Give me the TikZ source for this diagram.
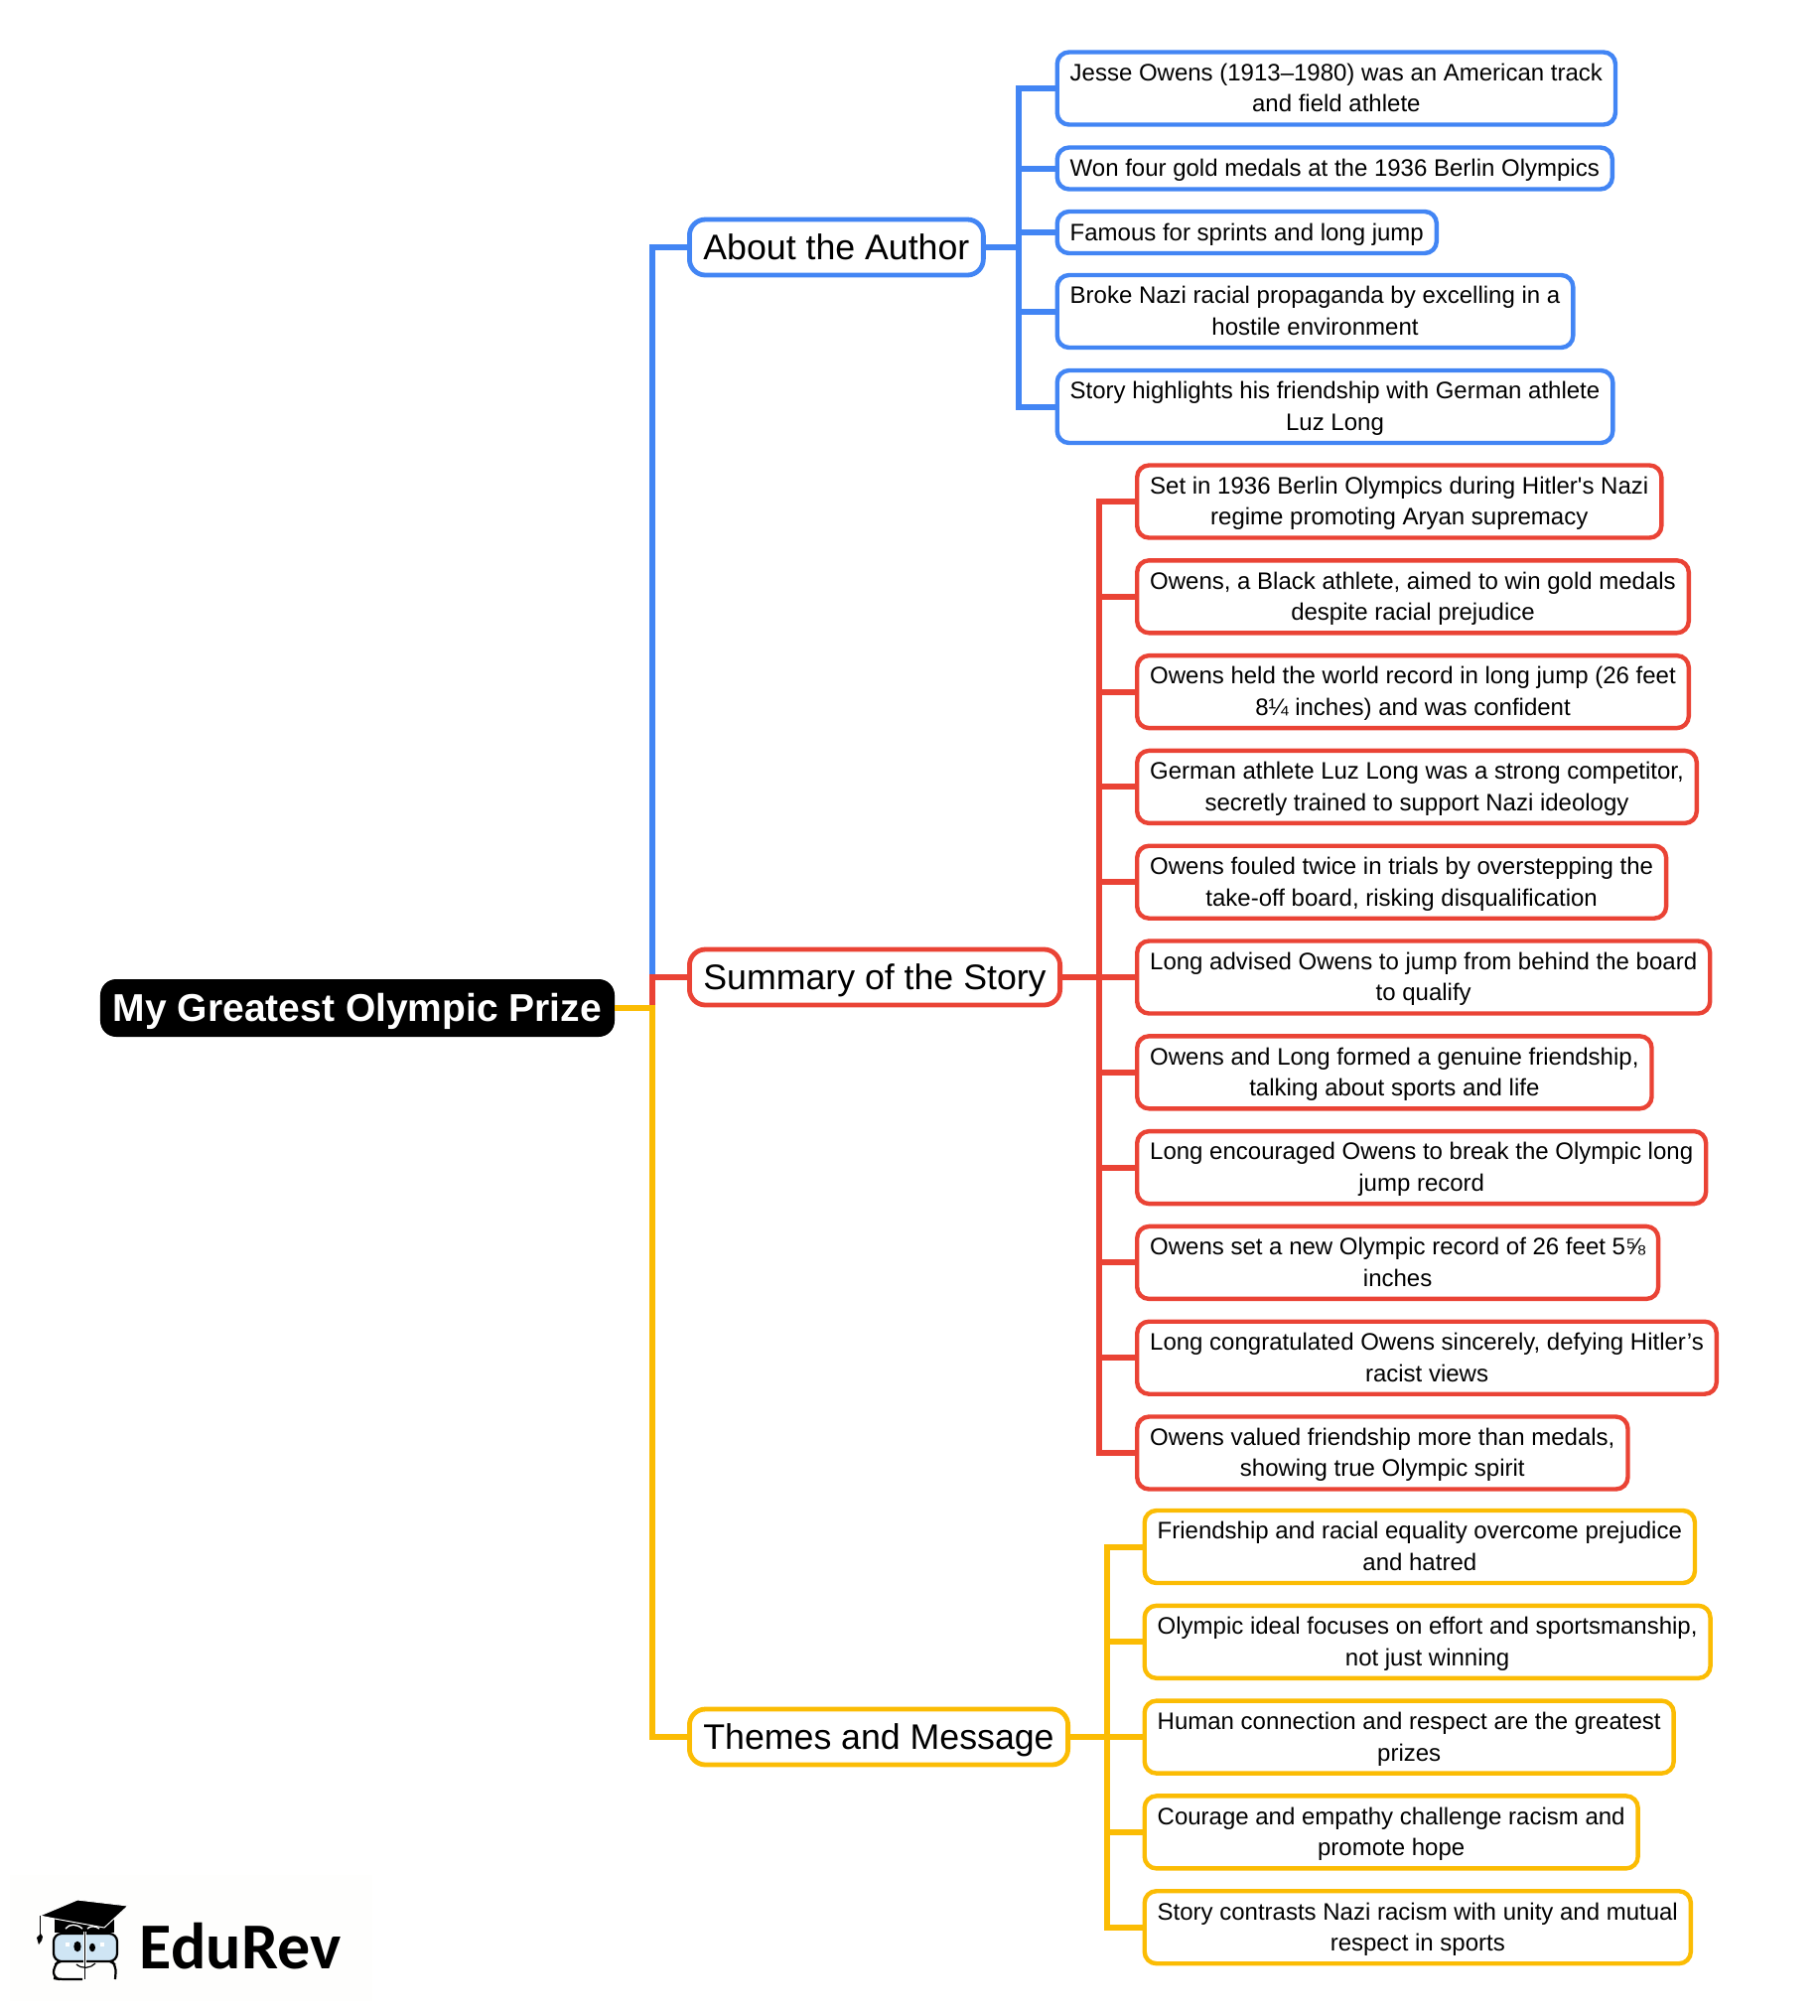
\documentclass[tikz,border=0pt]{standalone}
\usepackage{fontspec}
\setmainfont{Liberation Sans}
\newfontfamily\logofont{Carlito}
\usetikzlibrary{positioning}
\definecolor{authorblue}{HTML}{4285F4}
\definecolor{storyred}{HTML}{EA4335}
\definecolor{themeyellow}{HTML}{FBBC04}
\definecolor{logoblue}{HTML}{CFE5F4}
\definecolor{logopaper}{HTML}{FEFEFD}
\tikzset{
	rootbox/.style={fill=black, text=white, rounded corners=8pt, inner xsep=6.5pt, minimum height=29pt, text height=14pt, text depth=0.6pt, font=\fontsize{19.5}{23}\selectfont\bfseries},
	headbox/.style={draw=#1, line width=2.4pt, fill=white, rounded corners=8pt, anchor=west, inner xsep=7pt, minimum height=28pt, text height=13pt, text depth=0.8pt, font=\fontsize{17.85}{21}\selectfont},
	leafbox/.style={draw=#1, line width=2.2pt, fill=white, rounded corners=6pt, anchor=west, align=center, inner xsep=6.5pt, inner ysep=2pt, minimum height=21pt, text depth=0.6pt, font=\fontsize{12}{15.8}\selectfont},
	twoline/.style={minimum height=36.5pt},
	branch/.style={draw=#1, line width=3pt},
}
\begin{document}
\begin{tikzpicture}[x=0.5pt, y=-0.5pt]
	\useasboundingbox (0,0) rectangle (1832,2030);

	\coordinate (rt) at (656.5,0);
	\coordinate (at) at (1026,0);
	\coordinate (st) at (1107,0);
	\coordinate (tt) at (1115,0);

	\node (root) [rootbox] at (360,1015) {My Greatest Olympic Prize};

	\node (a) [headbox=authorblue] at (692,249) {About the Author};
	\node (s) [headbox=storyred] at (692,984) {Summary of the Story};
	\node (t) [headbox=themeyellow] at (692,1749) {Themes and Message};

	\node (a1) [leafbox=authorblue, twoline] at (1062.5,89) {Jesse Owens (1913–1980) was an American track\\and field athlete};
	\node (a2) [leafbox=authorblue] at (1062.5,169.5) {Won four gold medals at the 1936 Berlin Olympics};
	\node (a3) [leafbox=authorblue] at (1062.5,234) {Famous for sprints and long jump};
	\node (a4) [leafbox=authorblue, twoline] at (1062.5,313.5) {Broke Nazi racial propaganda by excelling in a\\hostile environment};
	\node (a5) [leafbox=authorblue, twoline] at (1062.5,409.5) {Story highlights his friendship with German athlete\\Luz Long};

	\node (s1) [leafbox=storyred, twoline] at (1143,505) {Set in 1936 Berlin Olympics during Hitler\textquotesingle s Nazi\\regime promoting Aryan supremacy};
	\node (s2) [leafbox=storyred, twoline, below=47.9pt of s1.west, anchor=west] {Owens, a Black athlete, aimed to win gold medals\\despite racial prejudice};
	\node (s3) [leafbox=storyred, twoline, below=47.9pt of s2.west, anchor=west] {Owens held the world record in long jump (26 feet\\8¼ inches) and was confident};
	\node (s4) [leafbox=storyred, twoline, below=47.9pt of s3.west, anchor=west] {German athlete Luz Long was a strong competitor,\\secretly trained to support Nazi ideology};
	\node (s5) [leafbox=storyred, twoline, below=47.9pt of s4.west, anchor=west] {Owens fouled twice in trials by overstepping the\\take-off board, risking disqualification};
	\node (s6) [leafbox=storyred, twoline, below=47.9pt of s5.west, anchor=west] {Long advised Owens to jump from behind the board\\to qualify};
	\node (s7) [leafbox=storyred, twoline, below=47.9pt of s6.west, anchor=west] {Owens and Long formed a genuine friendship,\\talking about sports and life};
	\node (s8) [leafbox=storyred, twoline, below=47.9pt of s7.west, anchor=west] {Long encouraged Owens to break the Olympic long\\jump record};
	\node (s9) [leafbox=storyred, twoline, below=47.9pt of s8.west, anchor=west] {Owens set a new Olympic record of 26 feet 5⅝\\inches};
	\node (s10) [leafbox=storyred, twoline, below=47.9pt of s9.west, anchor=west] {Long congratulated Owens sincerely, defying Hitler's\\racist views};
	\node (s11) [leafbox=storyred, twoline, below=47.9pt of s10.west, anchor=west] {Owens valued friendship more than medals,\\showing true Olympic spirit};

	\node (t1) [leafbox=themeyellow, twoline] at (1150.5,1557.5) {Friendship and racial equality overcome prejudice\\and hatred};
	\node (t2) [leafbox=themeyellow, twoline, below=47.9pt of t1.west, anchor=west] {Olympic ideal focuses on effort and sportsmanship,\\not just winning};
	\node (t3) [leafbox=themeyellow, twoline, below=47.9pt of t2.west, anchor=west] {Human connection and respect are the greatest\\prizes};
	\node (t4) [leafbox=themeyellow, twoline, below=47.9pt of t3.west, anchor=west] {Courage and empathy challenge racism and\\promote hope};
	\node (t5) [leafbox=themeyellow, twoline, below=47.9pt of t4.west, anchor=west] {Story contrasts Nazi racism with unity and mutual\\respect in sports};

	% main branches
	\draw[branch=authorblue] (root.east) -| (rt |- a.west) -- (a.west);
	\draw[branch=storyred] (root.east) -| (rt |- s.west) -- (s.west);
	\draw[branch=themeyellow] (root.east) -| (rt |- t.west) -- (t.west);

	% author leaves
	\draw[branch=authorblue] (a.east) -- (at |- a.east) |- (a1.west);
	\draw[branch=authorblue] (a.east) -- (at |- a.east) |- (a2.west);
	\draw[branch=authorblue] (a.east) -- (at |- a.east) |- (a3.west);
	\draw[branch=authorblue] (a.east) -- (at |- a.east) |- (a4.west);
	\draw[branch=authorblue] (a.east) -- (at |- a.east) |- (a5.west);

	% story leaves
	\draw[branch=storyred] (s.east) -- (st |- s.east) |- (s1.west);
	\draw[branch=storyred] (s.east) -- (st |- s.east) |- (s2.west);
	\draw[branch=storyred] (s.east) -- (st |- s.east) |- (s3.west);
	\draw[branch=storyred] (s.east) -- (st |- s.east) |- (s4.west);
	\draw[branch=storyred] (s.east) -- (st |- s.east) |- (s5.west);
	\draw[branch=storyred] (s.east) -- (st |- s.east) |- (s6.west);
	\draw[branch=storyred] (s.east) -- (st |- s.east) |- (s7.west);
	\draw[branch=storyred] (s.east) -- (st |- s.east) |- (s8.west);
	\draw[branch=storyred] (s.east) -- (st |- s.east) |- (s9.west);
	\draw[branch=storyred] (s.east) -- (st |- s.east) |- (s10.west);
	\draw[branch=storyred] (s.east) -- (st |- s.east) |- (s11.west);

	% theme leaves
	\draw[branch=themeyellow] (t.east) -- (tt |- t.east) |- (t1.west);
	\draw[branch=themeyellow] (t.east) -- (tt |- t.east) |- (t2.west);
	\draw[branch=themeyellow] (t.east) -- (tt |- t.east) |- (t3.west);
	\draw[branch=themeyellow] (t.east) -- (tt |- t.east) |- (t4.west);
	\draw[branch=themeyellow] (t.east) -- (tt |- t.east) |- (t5.west);

	% logo
	\fill[logopaper] (10,1888) rectangle (375,2015);
	\fill (55,1932) -- (55,1946) -- (115,1946) -- (115,1932) -- cycle;
	\filldraw[line width=0.5pt, draw=white] (40,1929) -- (78,1913) -- (129,1919) -- (105,1941) -- (55,1932) -- cycle;
	\draw[line width=0.5pt] (40,1929) -- (40,1949);
	\fill (41,1947) -- (37,1951) -- (39,1958) -- (42,1954) -- (43,1950) -- cycle;
	\draw[line width=0.7pt, white] (66,1942) .. controls (70,1937) and (77,1937) .. (83,1942);
	\draw[line width=0.7pt, white] (88,1942) .. controls (91,1939) and (96,1939) .. (100,1942);
	\draw[line width=1.1pt, rounded corners=3pt] (83,1974) -- (60,1974) -- (54,1980) -- (54,1992) -- (60,1993) -- (83,1993);
	\draw[line width=1.1pt, rounded corners=3pt] (88,1974) -- (112,1974) -- (117,1980) -- (116,1993);
	\draw[line width=1.1pt, fill=logoblue, rounded corners=4pt] (54,1947) rectangle (118,1975);
	\fill[white] (84,1945) rectangle (87,1993);
	\draw[line width=0.6pt] (85.5,1945) -- (85.5,1993);
	\fill (78,1960) ellipse (3.7 and 5.3);
	\fill (93,1961) ellipse (3 and 4.3);
	\fill[white] (66,1956) rectangle (70,1960);
	\fill[white] (101,1956) rectangle (105,1960);
	\draw[line width=0.6pt] (77,1978) .. controls (83,1983) and (91,1982) .. (96,1977);
	\node (logo) [anchor=west, inner sep=0pt, font=\fontsize{33}{33}\selectfont\logofont\bfseries] at (140.5,1960) {EduRev};
\end{tikzpicture}
\end{document}
